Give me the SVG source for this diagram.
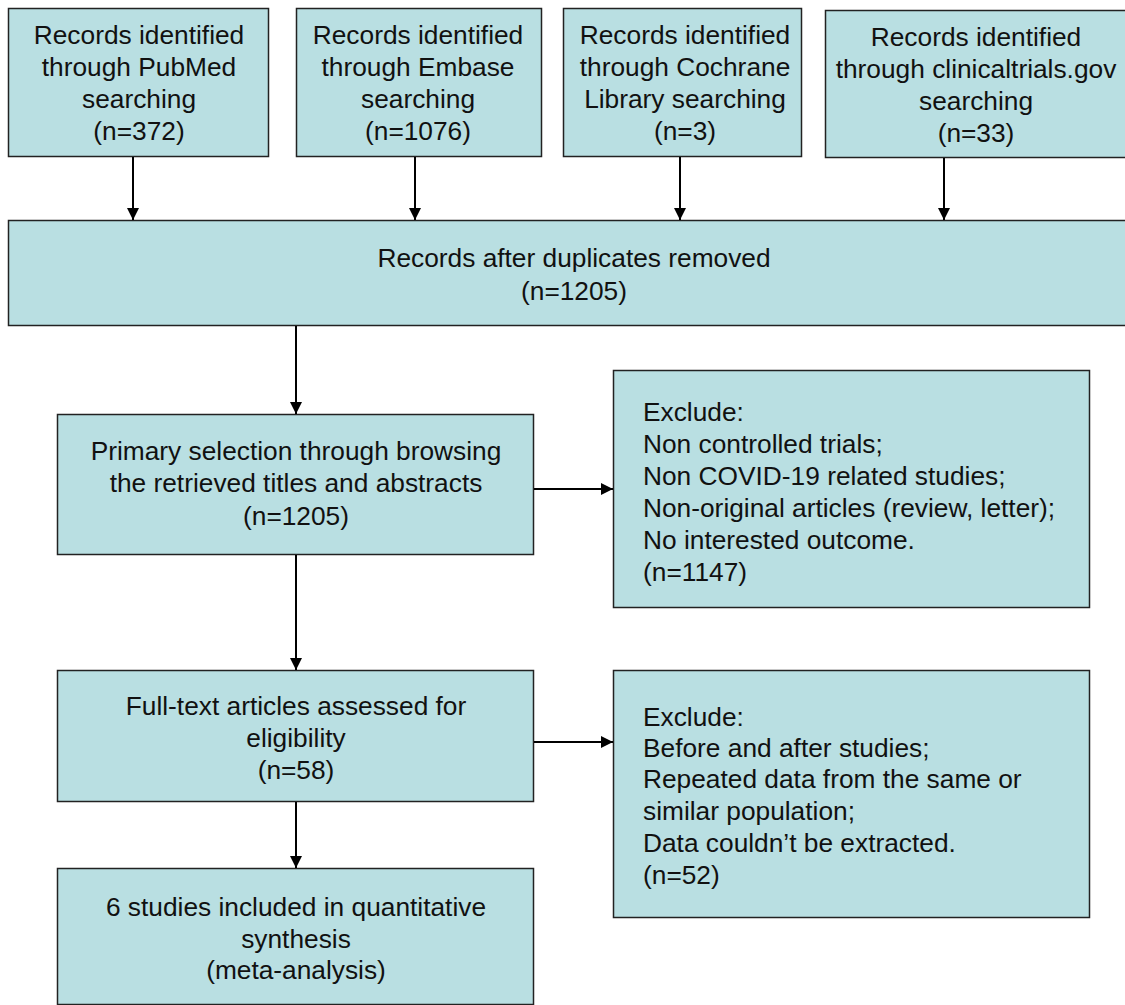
<svg xmlns="http://www.w3.org/2000/svg" width="1125" height="1005" viewBox="0 0 1125 1005">
<style>
.box{fill:#b9dfe2;stroke:#222;stroke-width:1.5}
text{font-family:"Liberation Sans",Arial,sans-serif;font-size:26.3px;fill:#111}
.c{text-anchor:middle}
.conn line{stroke:#000;stroke-width:2}
</style>
<defs>
<marker id="ah" viewBox="0 0 10 10" refX="10" refY="5" markerWidth="12" markerHeight="12" markerUnits="userSpaceOnUse" orient="auto">
<path d="M0,0 L10,5 L0,10 z" fill="#000"/>
</marker>
</defs>
<rect width="1125" height="1005" fill="#fff"/>
<g id="pubmed">
<rect class="box" x="8.5" y="8.5" width="260" height="148"/>
<text class="c" x="139" y="44">Records identified</text>
<text class="c" x="139" y="76">through PubMed</text>
<text class="c" x="139" y="108">searching</text>
<text class="c" x="139" y="140">(n=372)</text>
</g>
<g id="embase">
<rect class="box" x="296.5" y="8.5" width="245" height="148"/>
<text class="c" x="418" y="44">Records identified</text>
<text class="c" x="418" y="76">through Embase</text>
<text class="c" x="418" y="108">searching</text>
<text class="c" x="418" y="140">(n=1076)</text>
</g>
<g id="cochrane">
<rect class="box" x="563.5" y="8.5" width="238" height="148"/>
<text class="c" x="685" y="44">Records identified</text>
<text class="c" x="685" y="76">through Cochrane</text>
<text class="c" x="685" y="108">Library searching</text>
<text class="c" x="685" y="140">(n=3)</text>
</g>
<g id="clinicaltrials">
<rect class="box" x="825.5" y="10.5" width="302" height="147"/>
<text class="c" x="976" y="46">Records identified</text>
<text class="c" x="976" y="78">through clinicaltrials.gov</text>
<text class="c" x="976" y="110">searching</text>
<text class="c" x="976" y="142">(n=33)</text>
</g>
<g id="dedup">
<rect class="box" x="8.5" y="220.5" width="1120" height="105"/>
<text class="c" x="574" y="267">Records after duplicates removed</text>
<text class="c" x="574" y="300">(n=1205)</text>
</g>
<g id="primary">
<rect class="box" x="57.5" y="414.5" width="476" height="140"/>
<text class="c" x="296" y="460">Primary selection through browsing</text>
<text class="c" x="296" y="492">the retrieved titles and abstracts</text>
<text class="c" x="296" y="525">(n=1205)</text>
</g>
<g id="exclude1">
<rect class="box" x="613.5" y="370.5" width="476" height="237"/>
<text x="643" y="421">Exclude:</text>
<text x="643" y="453">Non controlled trials;</text>
<text x="643" y="485">Non COVID-19 related studies;</text>
<text x="643" y="517">Non-original articles (review, letter);</text>
<text x="643" y="549">No interested outcome.</text>
<text x="643" y="581">(n=1147)</text>
</g>
<g id="fulltext">
<rect class="box" x="57.5" y="670.5" width="476" height="131"/>
<text class="c" x="296" y="715">Full-text articles assessed for</text>
<text class="c" x="296" y="747">eligibility</text>
<text class="c" x="296" y="779">(n=58)</text>
</g>
<g id="exclude2">
<rect class="box" x="613.5" y="670.5" width="476" height="247"/>
<text x="643" y="726">Exclude:</text>
<text x="643" y="757">Before and after studies;</text>
<text x="643" y="788">Repeated data from the same or</text>
<text x="643" y="820">similar population;</text>
<text x="643" y="852">Data couldn’t be extracted.</text>
<text x="643" y="884">(n=52)</text>
</g>
<g id="included">
<rect class="box" x="57.5" y="868.5" width="476" height="136"/>
<text class="c" x="296" y="916">6 studies included in quantitative</text>
<text class="c" x="296" y="948">synthesis</text>
<text class="c" x="296" y="979">(meta-analysis)</text>
</g>
<g class="conn" id="connectors">
<line x1="133" y1="157" x2="133" y2="220" marker-end="url(#ah)"/>
<line x1="415" y1="157" x2="415" y2="220" marker-end="url(#ah)"/>
<line x1="680" y1="157" x2="680" y2="220" marker-end="url(#ah)"/>
<line x1="944" y1="158" x2="944" y2="220" marker-end="url(#ah)"/>
<line x1="296" y1="326" x2="296" y2="414" marker-end="url(#ah)"/>
<line x1="534" y1="489" x2="613" y2="489" marker-end="url(#ah)"/>
<line x1="296" y1="555" x2="296" y2="670" marker-end="url(#ah)"/>
<line x1="534" y1="742" x2="613" y2="742" marker-end="url(#ah)"/>
<line x1="296" y1="802" x2="296" y2="868" marker-end="url(#ah)"/>
</g>
</svg>
